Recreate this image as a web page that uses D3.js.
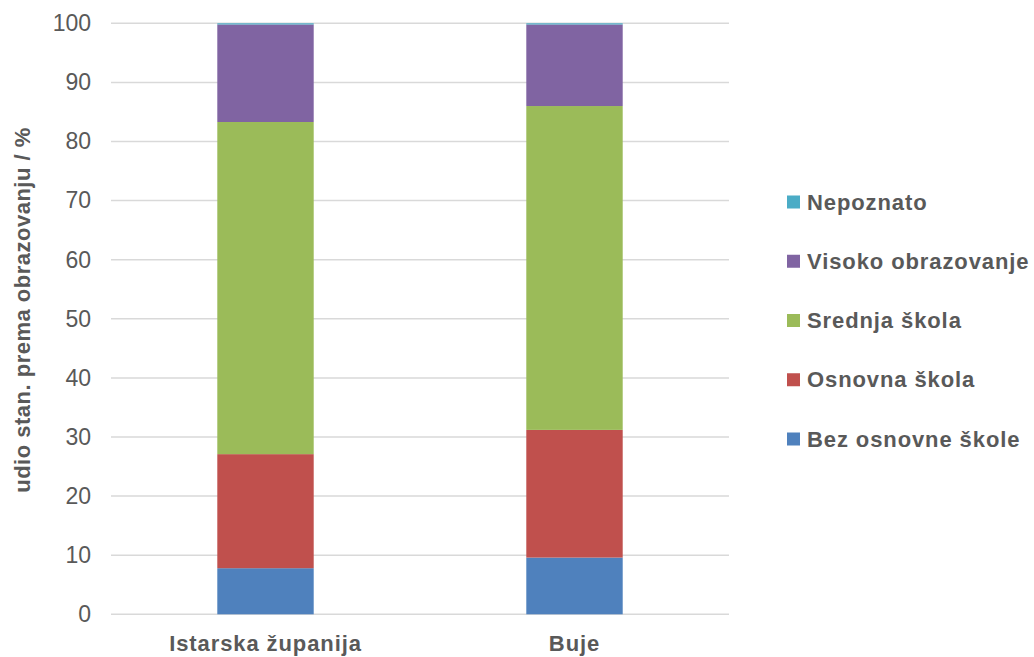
<!DOCTYPE html>
<html><head><meta charset="utf-8">
<script src="https://cdn.jsdelivr.net/npm/d3@7"></script>
<style>body{margin:0;background:#fff;} text{font-family:"Liberation Sans",Arial,sans-serif;}</style>
</head><body><svg id="c" width="1034" height="657"></svg>
<script>
const categories = ["Istarska županija", "Buje"];
const seriesNames = ["Bez osnovne škole", "Osnovna škola", "Srednja škola", "Visoko obrazovanje", "Nepoznato"];
const bezOsnovne = [7.8, 9.6];
const osnovna = [19.3, 21.6];
const srednja = [56.2, 54.8];
const visoko = [16.5, 13.8];
const nepoznato = [0.2, 0.2];
const colors = ["#4f81bd", "#c0504d", "#9bbb59", "#8064a2", "#4bacc6"];
const yTicks = [0,10,20,30,40,50,60,70,80,90,100];

const seriesVals = [bezOsnovne, osnovna, srednja, visoko, nepoznato];
const rows = categories.map((c,i)=>{const o={cat:c}; seriesNames.forEach((s,j)=>o[s]=seriesVals[j][i]); return o;});
const stacked = d3.stack().keys(seriesNames)(rows);

const svg = d3.select("#c");
const L=111, R=729, T=23.3, B=614.3;
const x = d3.scaleBand().domain(categories).range([L,R]).padding(0);
const y = d3.scaleLinear().domain([0,100]).range([B,T]);
const bw = x.bandwidth()*0.312;
const FONT = "Liberation Sans, Arial, sans-serif";

// gridlines
svg.append("g").selectAll("line").data(yTicks).join("line")
  .attr("x1",L).attr("x2",R).attr("y1",d=>y(d)).attr("y2",d=>y(d))
  .attr("stroke","#d9d9d9").attr("stroke-width",1.5);

// y axis labels
const ya = svg.append("g").attr("transform",`translate(${L},0)`)
  .call(d3.axisLeft(y).tickValues(yTicks).tickSize(0).tickPadding(20));
ya.select(".domain").remove();
ya.selectAll("text").attr("font-size",23).attr("fill","#595959").attr("font-family",FONT);

// bars
svg.append("g").selectAll("g").data(stacked).join("g").attr("fill",(d,i)=>colors[i])
  .selectAll("rect").data(d=>d).join("rect")
  .attr("x",d=>x(d.data.cat)+x.bandwidth()/2-bw/2).attr("width",bw)
  .attr("y",d=>y(d[1])).attr("height",d=>y(d[0])-y(d[1]));

// x axis labels
const xa = svg.append("g").attr("transform",`translate(0,${B})`)
  .call(d3.axisBottom(x).tickSize(0).tickPadding(21));
xa.select(".domain").remove();
xa.selectAll("text").attr("font-size",22).attr("font-weight","bold").attr("letter-spacing","0.9px")
  .attr("fill","#595959").attr("font-family",FONT);

// y title
svg.append("text").attr("transform",`translate(30,310) rotate(-90)`)
  .attr("text-anchor","middle").attr("font-size",22).attr("font-weight","bold").attr("letter-spacing","0.5px")
  .attr("fill","#595959").text("udio stan. prema obrazovanju / %");

// legend
const legY = d3.scalePoint().domain(seriesNames.slice().reverse()).range([202,439]);
const lg = svg.append("g").selectAll("g").data(seriesNames.slice().reverse()).join("g")
  .attr("transform",d=>`translate(787,${legY(d)})`);
lg.append("rect").attr("x",0).attr("y",-6.5).attr("width",13).attr("height",13)
  .attr("fill",d=>colors[seriesNames.indexOf(d)]);
lg.append("text").attr("x",20).attr("y",0).attr("dy","0.35em").attr("font-size",22).attr("font-weight","bold")
  .attr("letter-spacing","0.9px").attr("fill","#595959").text(d=>d);
</script></body></html>
